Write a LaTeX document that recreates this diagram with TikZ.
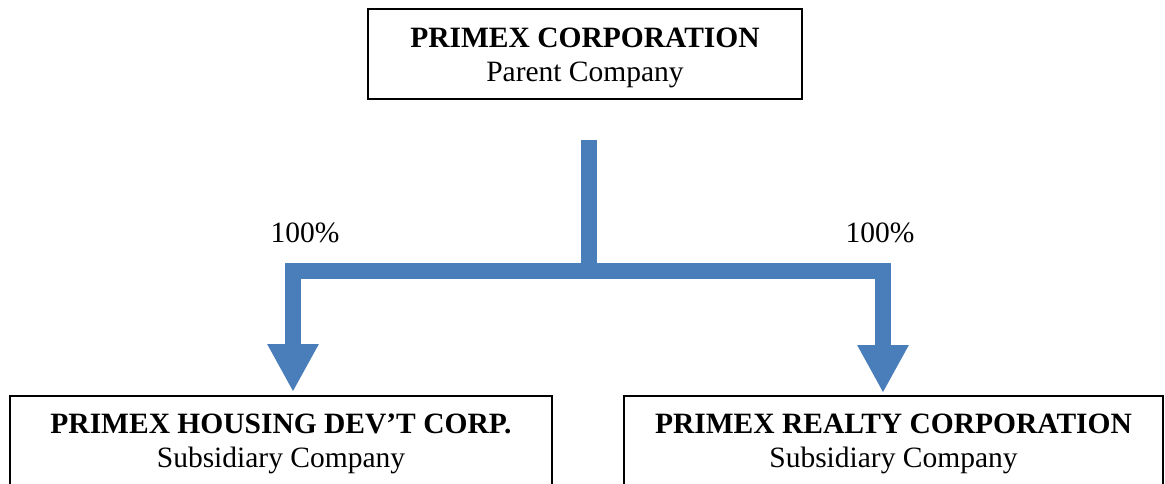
\documentclass[tikz,border=0pt]{standalone}
\usepackage{fontspec}
\setmainfont{Liberation Serif}
\usetikzlibrary{arrows.meta}
\definecolor{linkblue}{RGB}{74,126,187}
% taller first line, pushes the two lines down in the box
\newcommand{\toprow}{\rule{0pt}{26.5pt}}

\begin{document}
\begin{tikzpicture}[x=1pt,y=-1pt,line join=miter,
    company/.style={draw,line width=1.6pt,align=center,inner sep=0pt,
      minimum height=90pt,font=\fontsize{29.5}{34}\selectfont},
    share/.style={font=\fontsize{29.5}{34}\selectfont},
    owner/.style={draw=linkblue,line width=16pt},
    >={Triangle[width=48pt,length=48pt]}]
  \useasboundingbox (0,0) rectangle (1165,484);
  % parent and the two subsidiaries
  \node[company,minimum width=434pt] (parent) at (585,54)
    {\toprow\textbf{PRIMEX CORPORATION}\\Parent Company};
  \node[company,minimum width=542pt,anchor=north] (housing) at (281,395)
    {\toprow\textbf{PRIMEX HOUSING DEV’T CORP.}\\Subsidiary Company};
  \node[company,minimum width=539pt,anchor=north] (realty) at (893.5,395)
    {\toprow\textbf{PRIMEX REALTY CORPORATION}\\Subsidiary Company};

  % ownership lines
  \coordinate (stem) at ([xshift=4pt,yshift=-40pt]parent.south);
  \coordinate (join) at (589,271);
  \coordinate (housingtip) at ([xshift=12pt,yshift=3pt]housing.north);
  \coordinate (realtytip) at ([xshift=-10.5pt,yshift=2pt]realty.north);
  \draw[owner] (stem) -- (join);
  \draw[owner,<->] (housingtip) |- (join) -| (realtytip);

  \node[share] (housingshare) at (305,233) {100\%};
  \node[share] (realtyshare) at (880,233) {100\%};
\end{tikzpicture}
\end{document}
